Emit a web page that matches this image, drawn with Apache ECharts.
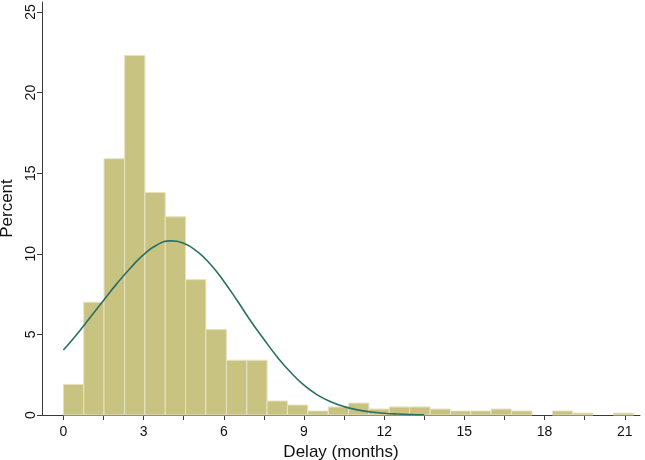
<!DOCTYPE html>
<html>
<head>
<meta charset="utf-8">
<script src="https://cdn.jsdelivr.net/npm/echarts@6/dist/echarts.min.js"></script>
<style>
  html, body { margin: 0; padding: 0; background: #fff; }
  #chart { width: 645px; height: 460px; }
</style>
</head>
<body>
<div id="chart"></div>
<script>
// histogram bins (months) and percent per bin
var binEdges = [0, 0.76, 1.52, 2.29, 3.05, 3.81, 4.57, 5.33, 6.10, 6.86, 7.62, 8.38, 9.14, 9.91,
    10.67, 11.43, 12.19, 12.95, 13.72, 14.48, 15.24, 16.00, 16.76, 17.53, 18.29, 19.05, 19.81, 20.57, 21.33];
var percents = [1.9, 7.0, 15.9, 22.3, 13.8, 12.3, 8.4, 5.3, 3.4, 3.4, 0.87, 0.62, 0.25, 0.5,
    0.74, 0.37, 0.5, 0.5, 0.37, 0.25, 0.25, 0.37, 0.25, 0, 0.25, 0.12, 0, 0.12];

// normal curve
var curveX = [0, 0.5, 1, 1.5, 2, 2.5, 3, 3.5, 4, 4.5, 5, 5.5, 6, 6.5, 7, 7.5, 8, 8.5, 9,
    9.5, 10, 10.5, 11, 11.5, 12, 12.5, 13, 13.5];
var curveY = [4.03, 5.0, 6.05, 7.1, 8.15, 9.1, 9.95, 10.55, 10.8, 10.65, 10.15, 9.35, 8.3, 7.1,
    5.85, 4.7, 3.6, 2.65, 1.85, 1.25, 0.82, 0.52, 0.32, 0.19, 0.11, 0.06, 0.03, 0.015];

// axis ticks and labels
var xLabels = [0, 3, 6, 9, 12, 15, 18, 21];
var xTicks = [0, 1.5, 3, 4.5, 6, 7.5, 9, 10.5, 12, 13.5, 15, 16.5, 18, 19.5, 21];
var yTicks = [0, 5, 10, 15, 20, 25];

var bars = [];
for (var i = 0; i < percents.length; i++) {
    bars.push([binEdges[i], binEdges[i + 1], percents[i]]);
}
var curve = [];
for (var j = 0; j < curveX.length; j++) {
    curve.push([curveX[j], curveY[j]]);
}

var font = '"Liberation Sans", Arial, Helvetica, sans-serif';
var axisColor = '#3a3a3a';

var option = {
    animation: false,
    grid: { left: 42, right: 5, top: 2, bottom: 45, containLabel: false, outerBoundsMode: 'none' },
    xAxis: {
        type: 'value',
        min: -0.8,
        max: 21.57,
        name: 'Delay (months)',
        nameLocation: 'middle',
        nameGap: 28,
        nameTextStyle: { fontFamily: font, fontSize: 17, color: '#111' },
        axisLine: { onZero: false, lineStyle: { color: axisColor, width: 1 } },
        axisTick: { customValues: xTicks, length: 5, lineStyle: { color: axisColor } },
        axisLabel: { customValues: xLabels, margin: 10, fontFamily: font, fontSize: 14, color: '#111' },
        splitLine: { show: false }
    },
    yAxis: {
        type: 'value',
        min: 0,
        max: 25.62,
        name: 'Percent',
        nameLocation: 'middle',
        nameGap: 24,
        nameTextStyle: { fontFamily: font, fontSize: 17, color: '#111' },
        axisLine: { show: true, onZero: false, lineStyle: { color: axisColor, width: 1 } },
        axisTick: { show: true, customValues: yTicks, length: 5, lineStyle: { color: axisColor } },
        axisLabel: { customValues: yTicks, rotate: 90, margin: 4, fontFamily: font, fontSize: 14, color: '#111' },
        splitLine: { show: false }
    },
    series: [
        {
            type: 'custom',
            data: bars,
            renderItem: function (params, api) {
                var p0 = api.coord([api.value(0), api.value(2)]);
                var p1 = api.coord([api.value(1), 0]);
                if (api.value(2) <= 0) return;
                return {
                    type: 'rect',
                    shape: { x: p0[0], y: p0[1], width: p1[0] - p0[0], height: p1[1] - p0[1] },
                    style: { fill: '#c9c382', stroke: '#e6e3c2', lineWidth: 1 }
                };
            },
            z: 1
        },
        {
            type: 'line',
            data: curve,
            smooth: true,
            symbol: 'none',
            lineStyle: { color: '#2a6f66', width: 1.6 },
            z: 2
        }
    ]
};

var chart = echarts.init(document.getElementById('chart'));
chart.setOption(option);
</script>
</body>
</html>
